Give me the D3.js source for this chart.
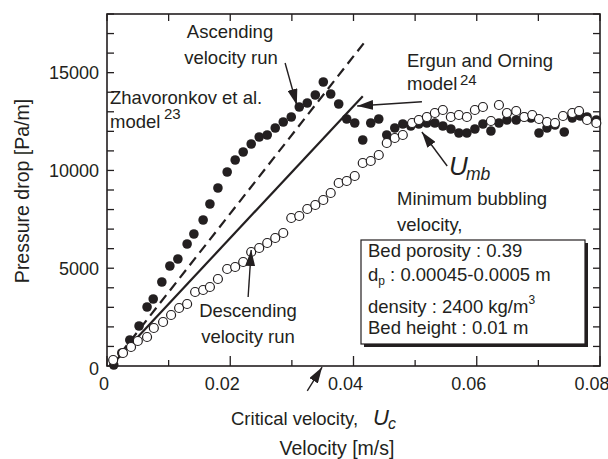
<!DOCTYPE html>
<html>
<head>
<meta charset="utf-8">
<script src="https://cdn.jsdelivr.net/npm/d3@7"></script>
<style>
  body { margin: 0; background: #fff; }
  text { font-family: "Liberation Sans", Arial, sans-serif; fill: #231f20; }
</style>
</head>
<body>
<div id="chart"></div>
<script>
// ascending velocity run (filled circles)
const ascVel = [0.0011, 0.0024, 0.0037, 0.0052, 0.0065, 0.0075, 0.0089, 0.0102, 0.0115, 0.0130,
  0.0141, 0.0156, 0.0167, 0.0180, 0.0195, 0.0208, 0.0221, 0.0234, 0.0247, 0.0260,
  0.0273, 0.0286, 0.0299, 0.0312, 0.0325, 0.0338, 0.0351, 0.0363, 0.0376, 0.0389,
  0.0402, 0.0415, 0.0428, 0.0441, 0.0454, 0.0467, 0.0480, 0.0493, 0.0506, 0.0519,
  0.0532, 0.0545, 0.0558, 0.0571, 0.0584, 0.0597, 0.0610, 0.0623, 0.0636, 0.0649,
  0.0664, 0.0677, 0.0688, 0.0701, 0.0714, 0.0727, 0.0742, 0.0755, 0.0768, 0.0779, 0.0794];
const ascDrop = [50, 665, 1330, 2045, 3017, 3426, 4295, 5114, 5472, 6239,
  6750, 7466, 8284, 9102, 9920, 10534, 10943, 11352, 11710, 11812,
  12170, 12477, 12733, 13244, 13449, 13858, 14523, 13909, 13398, 12631,
  12426, 11557, 12426, 12631, 11812, 12170, 12375, 12273, 12375, 12426,
  12426, 12273, 12119, 11915, 11915, 12119, 12375, 12017, 12426, 12579,
  12579, 12733, 12682, 11915, 12170, 12324, 11966, 12682, 12784, 12733, 12579];

// descending velocity run (open circles)
const descVel = [0.0010, 0.0026, 0.0039, 0.0050, 0.0065, 0.0076, 0.0091, 0.0104, 0.0117, 0.0130,
  0.0143, 0.0156, 0.0167, 0.0180, 0.0195, 0.0208, 0.0221, 0.0234, 0.0247, 0.0260,
  0.0273, 0.0286, 0.0299, 0.0312, 0.0325, 0.0338, 0.0351, 0.0363, 0.0376, 0.0389,
  0.0402, 0.0415, 0.0428, 0.0441, 0.0454, 0.0467, 0.0480, 0.0495, 0.0506, 0.0519,
  0.0532, 0.0545, 0.0558, 0.0571, 0.0584, 0.0597, 0.0610, 0.0623, 0.0636, 0.0649,
  0.0664, 0.0677, 0.0690, 0.0701, 0.0714, 0.0727, 0.0740, 0.0755, 0.0766, 0.0779, 0.0794];
const descDrop = [307, 665, 972, 1278, 1483, 1943, 2250, 2608, 2966, 3170,
  3784, 3886, 4040, 4449, 4960, 5062, 5318, 5830, 6034, 6290,
  6545, 6801, 7568, 7670, 8028, 8233, 8489, 8847, 9358, 9460,
  9716, 10381, 10483, 10790, 11403, 11659, 11812, 12426, 12579, 12733,
  12937, 13091, 12733, 12835, 12733, 13091, 13244, 12528, 13346, 12937,
  13040, 12733, 12835, 12631, 12477, 12426, 12784, 12937, 13040, 12579, 12426];

// model lines
const zhavVel = [0.0006, 0.0417], zhavDrop = [0, 16520];
const ergunVel = [0.0006, 0.0415], ergunDrop = [0, 13800];

// axis ticks
const xMinor = [0, 0.01, 0.02, 0.03, 0.04, 0.05, 0.06, 0.07, 0.08];
const xLabelVals = [0, 0.02, 0.04, 0.06, 0.08];
const xLabelText = ["0", "0.02", "0.04", "0.06", "0.08"];
const yMinor = [0, 1000, 2000, 3000, 4000, 5000, 6000, 7000, 8000, 9000, 10000,
  11000, 12000, 13000, 14000, 15000, 16000, 17000, 18000];
const yLabelVals = [0, 5000, 10000, 15000];
const yLabelText = ["0", "5000", "10000", "15000"];

const margin = {top: 14, right: 8, bottom: 93, left: 107},
    width = 608 - margin.left - margin.right,
    height = 459 - margin.top - margin.bottom;

const svgRoot = d3.select("#chart").append("svg")
    .attr("width", 608).attr("height", 459);

svgRoot.append("defs").append("marker")
    .attr("id", "head")
    .attr("markerUnits", "userSpaceOnUse")
    .attr("viewBox", "0 0 16 10")
    .attr("refX", 16).attr("refY", 5)
    .attr("markerWidth", 16).attr("markerHeight", 10)
    .attr("orient", "auto")
  .append("path")
    .attr("d", "M0,0 L16,5 L0,10 Z")
    .attr("fill", "#231f20");

const svg = svgRoot.append("g")
    .attr("transform", `translate(${margin.left},${margin.top})`);

const x = d3.scaleLinear().domain([0, 0.08]).range([0, width]);
const y = d3.scaleLinear().domain([0, 18000]).range([height, 0]);

// ticks (inward)
const ink = "#231f20";
svg.append("g").selectAll("line").data(xMinor).join("line")
    .attr("x1", d => x(d)).attr("x2", d => x(d))
    .attr("y1", height).attr("y2", d => height - (xLabelVals.includes(d) ? 10 : 6))
    .attr("stroke", ink).attr("stroke-width", 1.3);
svg.append("g").selectAll("line").data(xMinor).join("line")
    .attr("x1", d => x(d)).attr("x2", d => x(d))
    .attr("y1", 0).attr("y2", 7)
    .attr("stroke", ink).attr("stroke-width", 1.3);
svg.append("g").selectAll("line").data(yMinor).join("line")
    .attr("y1", d => y(d)).attr("y2", d => y(d))
    .attr("x1", 0).attr("x2", 7)
    .attr("stroke", ink).attr("stroke-width", 1.3);
svg.append("g").selectAll("line").data(yMinor).join("line")
    .attr("y1", d => y(d)).attr("y2", d => y(d))
    .attr("x1", width).attr("x2", width - 7)
    .attr("stroke", ink).attr("stroke-width", 1.3);

// tick labels
svg.append("g").selectAll("text").data(xLabelVals).join("text")
    .attr("x", d => x(d) + (d === 0 ? -3 : -8))
    .attr("y", height + 24)
    .attr("text-anchor", "middle")
    .style("font-size", "18px")
    .text((d, i) => xLabelText[i]);
svg.append("g").selectAll("text").data(yLabelVals).join("text")
    .attr("x", -8)
    .attr("y", d => y(d) + (d === 0 ? 3 : 0))
    .attr("dy", "0.35em")
    .attr("text-anchor", "end")
    .style("font-size", "18px")
    .text((d, i) => yLabelText[i]);

// frame
svg.append("rect")
    .attr("width", width).attr("height", height)
    .attr("fill", "none").attr("stroke", ink).attr("stroke-width", 1.6);

// model lines
const line = d3.line().x(d => x(d[0])).y(d => y(d[1]));
svg.append("path")
    .datum(zhavVel.map((v, i) => [v, zhavDrop[i]]))
    .attr("d", line)
    .attr("fill", "none").attr("stroke", ink)
    .attr("stroke-width", 2.2).attr("stroke-dasharray", "10,6");
svg.append("path")
    .datum(ergunVel.map((v, i) => [v, ergunDrop[i]]))
    .attr("d", line)
    .attr("fill", "none").attr("stroke", ink).attr("stroke-width", 2.2);

// points
svg.append("g").selectAll("circle").data(ascVel).join("circle")
    .attr("cx", d => x(d))
    .attr("cy", (d, i) => y(ascDrop[i]))
    .attr("r", 4.8)
    .attr("fill", ink);
svg.append("g").selectAll("circle").data(descVel).join("circle")
    .attr("cx", d => x(d))
    .attr("cy", (d, i) => y(descDrop[i]))
    .attr("r", 4.5)
    .attr("fill", "#fff").attr("stroke", ink).attr("stroke-width", 1.2);

// arrows [from velocity, from drop, to velocity, to drop]
const arrows = [
  [0.0289, 15494, 0.0308, 13346],   // ascending run
  [0.0511, 13515, 0.0406, 13296],   // Ergun and Orning
  [0.0552, 10227, 0.0511, 11966],   // U_mb
  [0.0229, 3528, 0.0234, 5932],     // descending run
  [0.0325, -1278, 0.0349, -60]      // critical velocity
];
svg.append("g").selectAll("line").data(arrows).join("line")
    .attr("x1", d => x(d[0])).attr("y1", d => y(d[1]))
    .attr("x2", d => x(d[2])).attr("y2", d => y(d[3]))
    .attr("stroke", ink).attr("stroke-width", 1.4)
    .attr("marker-end", "url(#head)");

// annotation box
const box = {x: 361 - margin.left, y: 240 - margin.top, w: 224, h: 104};
svg.append("rect")
    .attr("x", box.x + 3).attr("y", box.y + 3)
    .attr("width", box.w).attr("height", box.h)
    .attr("fill", ink);
svg.append("rect")
    .attr("x", box.x).attr("y", box.y)
    .attr("width", box.w).attr("height", box.h)
    .attr("fill", "#fff").attr("stroke", ink).attr("stroke-width", 1.2);

// texts (page coordinates)
const page = svgRoot.append("g");
function label(tx, ty, str, opts = {}) {
  return page.append("text")
    .attr("x", tx).attr("y", ty)
    .attr("text-anchor", opts.anchor || "start")
    .style("font-size", (opts.size || 18.5) + "px")
    .style("font-style", opts.italic ? "italic" : "normal")
    .text(str);
}

label(230, 38, "Ascending", {anchor: "middle"});
label(231, 64, "velocity run", {anchor: "middle"});
label(110, 104, "Zhavoronkov et al.");
label(110, 128, "model");
label(164, 119, "23", {size: 15});
label(407, 67, "Ergun and Orning");
label(407, 90, "model");
label(460, 85, "24", {size: 15});
label(449, 175, "U", {size: 26, italic: true});
label(466, 180, "mb", {size: 17.5, italic: true});
label(397, 205, "Minimum bubbling");
label(397, 231, "velocity,");
label(248, 317, "Descending", {anchor: "middle"});
label(248, 343, "velocity run", {anchor: "middle"});

label(368, 257, "Bed porosity : 0.39");
const dp = label(368, 281, "d");
dp.append("tspan").attr("dy", 4).style("font-size", "12px").text("p");
dp.append("tspan").attr("dy", -4).text(" : 0.00045-0.0005 m");
const dens = label(368, 313, "density : 2400 kg/m");
dens.append("tspan").attr("dy", -9).style("font-size", "12px").text("3");
label(368, 334, "Bed height : 0.01 m");

label(231, 425, "Critical velocity,");
label(373, 425, "U", {size: 22, italic: true});
label(388, 429, "c", {size: 16, italic: true});
label(337, 455, "Velocity [m/s]", {anchor: "middle", size: 19.5});

page.append("text")
    .attr("transform", "translate(29,191) rotate(-90)")
    .attr("text-anchor", "middle")
    .style("font-size", "19.5px")
    .text("Pressure drop [Pa/m]");
</script>
</body>
</html>
